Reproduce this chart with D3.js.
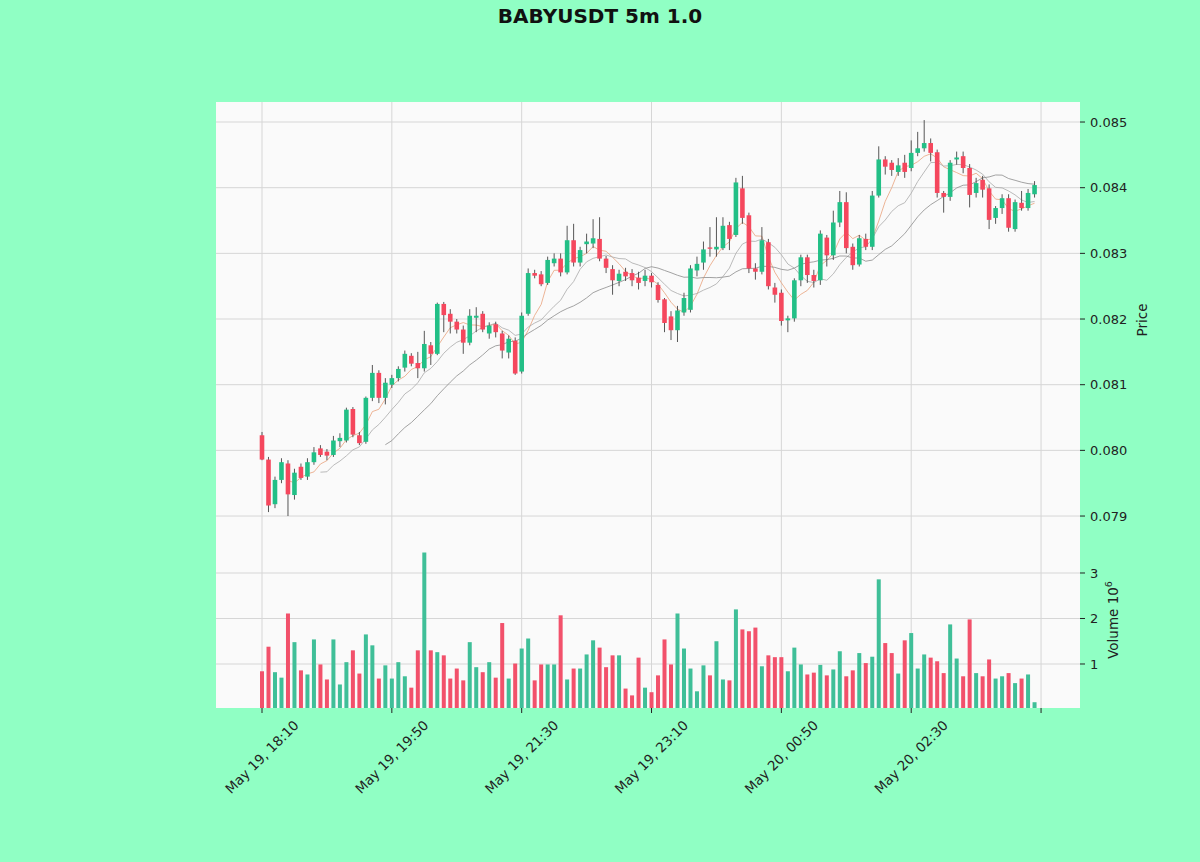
<!DOCTYPE html>
<html><head><meta charset="utf-8">
<script src="https://cdn.jsdelivr.net/npm/d3@7"></script>
<style>body{margin:0;background:#90ffc4;}svg{display:block;font-family:"DejaVu Sans",sans-serif;}</style>
</head><body><svg id="c" width="1200" height="862"></svg>
<script>
const title = "BABYUSDT 5m 1.0";
const opens  = [0.08023,0.07986,0.07918,0.07955,0.07980,0.07932,0.07975,0.07960,0.07982,0.08003,0.07998,0.07993,0.08014,0.08015,0.08063,0.08023,0.08013,0.08080,0.08118,0.08080,0.08100,0.08110,0.08126,0.08144,0.08133,0.08125,0.08160,0.08147,0.08223,0.08208,0.08196,0.08184,0.08164,0.08202,0.08208,0.08178,0.08192,0.08178,0.08149,0.08167,0.08120,0.08208,0.08270,0.08268,0.08255,0.08285,0.08292,0.08271,0.08320,0.08286,0.08314,0.08315,0.08322,0.08292,0.08276,0.08258,0.08272,0.08270,0.08263,0.08258,0.08266,0.08252,0.08230,0.08204,0.08183,0.08210,0.08214,0.08274,0.08286,0.08309,0.08306,0.08308,0.08343,0.08328,0.08399,0.08358,0.08277,0.08272,0.08317,0.08248,0.08240,0.08198,0.08201,0.08259,0.08294,0.08267,0.08259,0.08324,0.08297,0.08347,0.08378,0.08310,0.08283,0.08322,0.08310,0.08388,0.08443,0.08438,0.08424,0.08438,0.08430,0.08453,0.08460,0.08468,0.08454,0.08392,0.08386,0.08443,0.08448,0.08430,0.08392,0.08412,0.08399,0.08354,0.08369,0.08384,0.08337,0.08377,0.08369,0.08390];
const highs  = [0.08028,0.07990,0.07960,0.07988,0.07985,0.07972,0.07980,0.07988,0.08005,0.08008,0.08002,0.08022,0.08026,0.08065,0.08066,0.08028,0.08082,0.08130,0.08122,0.08110,0.08115,0.08128,0.08152,0.08148,0.08150,0.08182,0.08165,0.08225,0.08226,0.08215,0.08200,0.08190,0.08215,0.08218,0.08212,0.08195,0.08196,0.08182,0.08175,0.08172,0.08210,0.08277,0.08275,0.08273,0.08295,0.08300,0.08300,0.08342,0.08345,0.08310,0.08330,0.08352,0.08355,0.08296,0.08282,0.08275,0.08278,0.08276,0.08272,0.08275,0.08270,0.08256,0.08232,0.08212,0.08220,0.08240,0.08282,0.08295,0.08318,0.08340,0.08355,0.08355,0.08348,0.08415,0.08418,0.08362,0.08285,0.08340,0.08322,0.08255,0.08245,0.08205,0.08262,0.08298,0.08298,0.08275,0.08335,0.08328,0.08365,0.08395,0.08393,0.08315,0.08328,0.08330,0.08395,0.08463,0.08448,0.08442,0.08445,0.08450,0.08472,0.08485,0.08503,0.08475,0.08458,0.08395,0.08442,0.08455,0.08455,0.08436,0.08415,0.08418,0.08405,0.08372,0.08390,0.08390,0.08382,0.08395,0.08398,0.08410];
const lows   = [0.07985,0.07906,0.07912,0.07950,0.07900,0.07925,0.07955,0.07955,0.07978,0.07990,0.07985,0.07990,0.08005,0.08012,0.08020,0.08008,0.08010,0.08075,0.08072,0.08070,0.08095,0.08105,0.08120,0.08128,0.08110,0.08120,0.08130,0.08145,0.08180,0.08178,0.08178,0.08147,0.08160,0.08180,0.08180,0.08170,0.08172,0.08140,0.08140,0.08115,0.08117,0.08205,0.08262,0.08250,0.08252,0.08280,0.08265,0.08268,0.08280,0.08280,0.08300,0.08308,0.08288,0.08270,0.08237,0.08250,0.08258,0.08250,0.08245,0.08250,0.08248,0.08225,0.08180,0.08168,0.08165,0.08205,0.08210,0.08265,0.08275,0.08295,0.08295,0.08305,0.08305,0.08325,0.08345,0.08270,0.08260,0.08268,0.08245,0.08225,0.08190,0.08180,0.08196,0.08250,0.08255,0.08248,0.08252,0.08280,0.08290,0.08340,0.08300,0.08275,0.08280,0.08305,0.08305,0.08385,0.08420,0.08418,0.08418,0.08415,0.08425,0.08448,0.08455,0.08440,0.08385,0.08362,0.08380,0.08435,0.08422,0.08370,0.08385,0.08385,0.08337,0.08345,0.08360,0.08333,0.08333,0.08365,0.08365,0.08385];
const closes = [0.07986,0.07916,0.07955,0.07982,0.07933,0.07966,0.07958,0.07982,0.07997,0.07993,0.07992,0.08015,0.08019,0.08062,0.08024,0.08011,0.08080,0.08118,0.08080,0.08103,0.08110,0.08124,0.08147,0.08132,0.08125,0.08162,0.08147,0.08223,0.08206,0.08196,0.08184,0.08164,0.08205,0.08205,0.08184,0.08190,0.08180,0.08152,0.08170,0.08117,0.08205,0.08270,0.08266,0.08253,0.08290,0.08292,0.08271,0.08320,0.08286,0.08305,0.08318,0.08323,0.08292,0.08278,0.08259,0.08269,0.08265,0.08259,0.08255,0.08266,0.08256,0.08229,0.08194,0.08183,0.08213,0.08232,0.08277,0.08284,0.08306,0.08307,0.08310,0.08342,0.08322,0.08408,0.08354,0.08277,0.08272,0.08320,0.08250,0.08237,0.08197,0.08201,0.08259,0.08294,0.08267,0.08258,0.08330,0.08297,0.08347,0.08378,0.08308,0.08282,0.08323,0.08310,0.08388,0.08443,0.08432,0.08427,0.08434,0.08424,0.08453,0.08460,0.08468,0.08453,0.08392,0.08386,0.08438,0.08446,0.08430,0.08389,0.08407,0.08397,0.08351,0.08369,0.08384,0.08339,0.08378,0.08369,0.08392,0.08404];
const volumes = [0.84,1.38,0.82,0.70,2.11,1.48,0.86,0.77,1.54,0.99,0.66,1.54,0.55,1.04,1.30,0.79,1.65,1.41,0.68,0.97,0.68,1.04,0.73,0.48,1.30,3.45,1.30,1.26,1.19,0.68,0.90,0.64,1.48,0.93,0.82,1.04,0.70,1.90,0.68,1.01,1.34,1.56,0.64,0.99,0.99,0.99,2.07,0.66,0.90,0.90,1.21,1.52,1.36,0.93,1.19,1.19,0.46,0.31,1.14,0.48,0.38,0.75,1.54,0.99,2.11,1.34,0.90,0.40,0.97,0.75,1.50,0.66,0.64,2.20,1.76,1.72,1.80,0.95,1.19,1.15,1.15,0.84,1.36,0.99,0.77,0.81,0.98,0.75,0.88,1.28,0.73,0.86,1.24,1.02,1.16,2.86,1.46,1.24,0.79,1.52,1.68,0.90,1.21,1.14,1.06,0.80,1.87,1.12,0.73,1.98,0.80,0.73,1.10,0.68,0.73,0.80,0.58,0.68,0.77,0.16].map(v => v * 1e6);
const xTickIdx = [0, 20, 40, 60, 80, 100, 120];
const xTickLabels = ["May 19, 18:10","May 19, 19:50","May 19, 21:30","May 19, 23:10","May 20, 00:50","May 20, 02:30",""];
const priceTicks = [0.079,0.080,0.081,0.082,0.083,0.084,0.085];
const volTicks = [1e6,2e6,3e6];
const mavPeriods = [5,10,20];

const svg = d3.select("#c");
const L=216, R=1080, PT=102, PB=540, VT=540, VB=708;
const x = d3.scaleLinear().domain([-7.086,126.0]).range([L,R]);
const yP = d3.scaleLinear().domain([0.078635,0.085305]).range([PB,PT]);
const yV = d3.scaleLinear().domain([0.033e6,3.725e6]).range([VB,VT]);
const UP="#22bf86", DN="#f5475d", VUP="#3fbf98", VDN="#f2516b";

svg.append("text").attr("x",600).attr("y",23).attr("text-anchor","middle")
  .attr("font-size",20).attr("font-weight","bold").attr("fill","#111").text(title);

svg.append("rect").attr("x",L).attr("y",PT).attr("width",R-L).attr("height",VB-PT).attr("fill","#fafafa");

const grid = svg.append("g").attr("stroke","#d6d6d6").attr("stroke-width",1);
xTickIdx.forEach(i=>{grid.append("line").attr("x1",x(i)).attr("x2",x(i)).attr("y1",PT).attr("y2",VB);});
priceTicks.forEach(p=>{grid.append("line").attr("x1",L).attr("x2",R).attr("y1",yP(p)).attr("y2",yP(p));});
volTicks.forEach(v=>{grid.append("line").attr("x1",L).attr("x2",R).attr("y1",yV(v)).attr("y2",yV(v));});

const data = opens.map((o,i)=>({i,o,h:highs[i],l:lows[i],c:closes[i],v:volumes[i]}));

// moving averages
const mavColors = ["#e9a27c","#a9a9a9","#8c8c8c"];
mavPeriods.forEach((p,k)=>{
  const pts = [];
  for(let i=p-1;i<closes.length;i++) pts.push([i, d3.mean(closes.slice(i-p+1,i+1))]);
  svg.append("path").attr("d", d3.line().x(d=>x(d[0])).y(d=>yP(d[1]))(pts))
    .attr("fill","none").attr("stroke",mavColors[k]).attr("stroke-width",0.8);
});

// candles
const bw = 4.6;
const cg = svg.append("g");
cg.selectAll("line.w").data(data).join("line").attr("class","w")
  .attr("x1",d=>x(d.i)).attr("x2",d=>x(d.i)).attr("y1",d=>yP(d.h)).attr("y2",d=>yP(d.l))
  .attr("stroke","#444").attr("stroke-width",0.9);
cg.selectAll("rect").data(data).join("rect")
  .attr("x",d=>x(d.i)-bw/2).attr("width",bw)
  .attr("y",d=>yP(Math.max(d.o,d.c))).attr("height",d=>Math.max(1,Math.abs(yP(d.o)-yP(d.c))))
  .attr("fill",d=>d.c>=d.o?UP:DN);

// volume
const vw = 4.0;
svg.append("g").selectAll("rect").data(data).join("rect")
  .attr("x",d=>x(d.i)-vw/2).attr("width",vw)
  .attr("y",d=>yV(d.v)).attr("height",d=>VB-yV(d.v))
  .attr("fill",d=>d.c>=d.o?VUP:VDN);

// right axes
const rax = svg.append("g").attr("font-size",13).attr("fill","#222");
priceTicks.forEach(p=>{
  rax.append("line").attr("x1",R).attr("x2",R+5).attr("y1",yP(p)).attr("y2",yP(p)).attr("stroke","#222");
  rax.append("text").attr("x",R+10).attr("y",yP(p)).attr("dy","0.35em").text(d3.format(".3f")(p));
});
volTicks.forEach(v=>{
  rax.append("line").attr("x1",R).attr("x2",R+5).attr("y1",yV(v)).attr("y2",yV(v)).attr("stroke","#222");
  rax.append("text").attr("x",R+10).attr("y",yV(v)).attr("dy","0.35em").text(v/1e6);
});
svg.append("text").attr("transform","translate(1147,320) rotate(-90)").attr("text-anchor","middle")
  .attr("font-size",13.5).attr("fill","#222").text("Price");
const vl = svg.append("text").attr("transform","translate(1118,620) rotate(-90)").attr("text-anchor","middle")
  .attr("font-size",13.5).attr("fill","#222");
vl.append("tspan").text("Volume  10");
vl.append("tspan").attr("font-size",9.5).attr("dy","-0.6em").text("6");

// bottom axis
const bax = svg.append("g").attr("font-size",13.5).attr("fill","#222");
xTickIdx.forEach((i,k)=>{
  bax.append("line").attr("x1",x(i)).attr("x2",x(i)).attr("y1",VB).attr("y2",VB+5).attr("stroke","#222");
  if(xTickLabels[k]) bax.append("text").attr("transform",`translate(${x(i)},757) rotate(-45)`)
    .attr("text-anchor","middle").attr("dy","0.35em").text(xTickLabels[k]);
});
</script></body></html>
